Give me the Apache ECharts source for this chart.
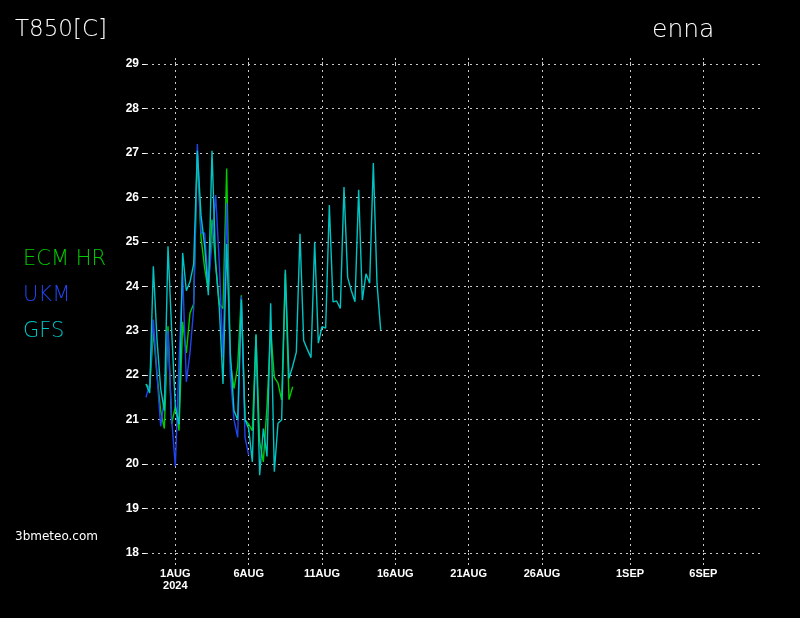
<!DOCTYPE html>
<html><head><meta charset="utf-8">
<script src="https://cdn.jsdelivr.net/npm/echarts@6/dist/echarts.min.js"></script>
<style>html,body{margin:0;padding:0;background:#000;}#c{width:800px;height:618px;}</style>
</head><body><div id="c"></div>
<script>
// ---- data ----
const seriesStart = '2024-07-30T00:00:00Z';   // first 6-hourly step
const stepHours = 6;
const axisStart = '2024-07-30T00:00:00Z';
const axisEnd = '2024-09-10T00:00:00Z';

const seriesNames = ['ECM HR', 'UKM', 'GFS'];
const seriesColors = ['#00cc00', '#2244f0', '#00c4c4'];

const ecmHr = [21.8, 21.7, 23.0, 22.0, 21.2, 20.8, 23.1, 20.9, 21.3, 20.75,
  23.2, 22.5, 23.4, 23.6, 27.0, 25.1, 24.4, 23.9, 25.5, 24.5,
  23.6, 23.5, 26.65, 22.3, 21.7, 22.2, 23.8, 21.0, 20.9, 20.75,
  22.9, 20.5, 20.05, 21.3, 23.0, 21.95, 21.82, 21.44, 24.3, 21.45, 21.74];

const ukm = [21.5, 21.8, 23.25, 22.0, 20.85, 21.45, 23.0, 21.0, 19.95, 22.3,
  24.3, 21.85, 22.5, 23.5, 27.2, 25.2, 25.2, 24.0, 25.0, 26.05,
  24.5, 22.4, 25.87, 22.0, 21.0, 20.6, 23.77, 20.6, 20.2];

const gfs = [21.8, 21.6, 24.45, 22.8, 21.7, 21.2, 24.9, 23.0, 21.3, 20.9,
  24.75, 23.9, 24.1, 24.5, 27.05, 25.6, 24.9, 23.8, 27.05, 24.5,
  23.5, 21.8, 24.95, 22.5, 21.2, 21.0, 23.7, 21.0, 20.8, 20.05,
  22.92, 19.75, 20.8, 20.17, 23.62, 19.83, 20.92, 21.0, 24.37, 21.93,
  22.2, 22.52, 25.18, 22.78, 22.58, 22.39, 25.0, 22.72, 23.09, 23.06,
  25.83, 23.65, 23.67, 23.5, 26.23, 24.2, 23.9, 23.65, 26.17, 23.69,
  24.28, 24.07, 26.77, 24.07, 23.02];

const tickDates = ['2024-08-01', '2024-08-06', '2024-08-11', '2024-08-16', '2024-08-21', '2024-08-26', '2024-09-01', '2024-09-06'];
const tickLabels = ['1AUG\n2024', '6AUG', '11AUG', '16AUG', '21AUG', '26AUG', '1SEP', '6SEP'];

const yMin = 18, yMax = 29, yStep = 1;

const titleText = 'T850[C]';
const placeText = 'enna';
const sourceText = '3bmeteo.com';

// ---- build ----
const t0 = Date.parse(seriesStart);
const toPairs = vals => vals.map((v, i) => [t0 + i * stepHours * 3600000, v]);
const tickVals = tickDates.map(d => Date.parse(d + 'T00:00:00Z'));
const labelFor = v => {
  let best = 0, bd = Infinity;
  tickVals.forEach((t, i) => { const d = Math.abs(t - v); if (d < bd) { bd = d; best = i; } });
  return bd < 3600000 ? tickLabels[best] : '';
};

const gridColor = '#c8c8c8';
const thinFont = 'DejaVu Sans';
const axisFont = 'Liberation Sans Narrow, Liberation Sans, Arial, sans-serif';

const chart = echarts.init(document.getElementById('c'), null, {renderer: 'canvas'});
chart.setOption({
  backgroundColor: '#000',
  animation: false,
  grid: {left: 146, right: 38, top: 64, bottom: 65, containLabel: false},
  legend: {
    orient: 'vertical', left: 12, top: 244, itemWidth: 0, itemHeight: 0, itemGap: 15,
    selectedMode: false,
    textStyle: {fontSize: 21, fontFamily: thinFont, fontWeight: 200},
    data: seriesNames.map((n, i) => ({name: n, textStyle: {color: seriesColors[i]}}))
  },
  graphic: [
    {type: 'text', left: 15, top: 19, style: {text: titleText, fill: '#fff', font: '200 23px "DejaVu Sans"'}},
    {type: 'text', left: 652, top: 18, style: {text: placeText, fill: '#fff', font: '200 25px "DejaVu Sans"'}},
    {type: 'text', left: 15, top: 531, style: {text: sourceText, fill: '#fff', font: '12px "DejaVu Sans"'}}
  ],
  xAxis: [{
    type: 'value', min: Date.parse(axisStart), max: Date.parse(axisEnd), position: 'bottom',
    axisLine: {show: false},
    axisTick: {show: true, customValues: tickVals, length: 12, lineStyle: {color: gridColor, type: [2, 3]}},
    axisLabel: {
      customValues: tickVals, color: '#fff', fontWeight: 'bold', fontSize: 11, margin: 15,
      lineHeight: 12, fontFamily: axisFont,
      formatter: v => labelFor(v)
    },
    splitLine: {show: true, lineStyle: {color: gridColor, type: [2, 4], width: 1}}
  }, {
    type: 'value', min: Date.parse(axisStart), max: Date.parse(axisEnd), position: 'top',
    axisLine: {show: false},
    axisTick: {show: true, customValues: tickVals, length: 6, lineStyle: {color: gridColor, type: [2, 2]}},
    axisLabel: {show: false},
    splitLine: {show: false}
  }],
  yAxis: {
    type: 'value', min: yMin, max: yMax, interval: yStep,
    axisLine: {show: false},
    axisTick: {show: true, length: 4, lineStyle: {color: '#fff', width: 1}},
    axisLabel: {color: '#fff', fontWeight: 'bold', fontSize: 12, margin: 7, fontFamily: axisFont},
    splitLine: {show: true, lineStyle: {color: gridColor, type: [2, 4], width: 1}}
  },
  series: [ecmHr, ukm, gfs].map((vals, i) => ({
    name: seriesNames[i], type: 'line', data: toPairs(vals), xAxisIndex: 0,
    showSymbol: false, symbol: 'none', color: seriesColors[i],
    lineStyle: {width: 1.4, color: seriesColors[i]}, z: 2 + i
  }))
});
</script>
</body></html>
